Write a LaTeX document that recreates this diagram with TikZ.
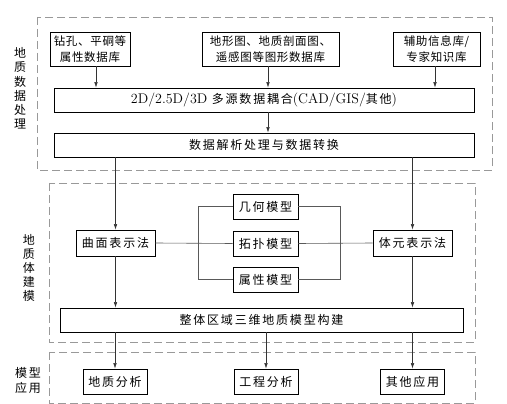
\documentclass[tikz,border=0pt]{standalone}
\usepackage{fontspec}
\newfontfamily\cjk[LetterSpace=15]{Noto Sans CJK SC}
\newfontfamily\cjktop[LetterSpace=6]{Noto Sans CJK SC}
\newfontfamily\cjkside{Noto Sans CJK SC}
\usetikzlibrary{arrows.meta}

\begin{document}
\begin{tikzpicture}[%
      x=1pt, y=-1pt,
      every node/.style={font={\cjk\fontsize{12}{16}\selectfont}, inner sep=0pt},
      box/.style={draw, line width=0.8pt, minimum height=24pt, align=center},
      source/.style={box, minimum height=34pt, font={\cjktop\fontsize{11.5}{16}\selectfont}},
      frame/.style={draw=gray!80, line width=0.8pt, dash pattern=on 8pt off 4pt},
      side/.style={font={\cjkside\fontsize{12}{14.2}\selectfont}, align=center},
      arr/.style={draw=black!80, line width=0.6pt, -{Latex[length=5.5pt,width=3.6pt]}},
      link/.style={draw=black!65, line width=0.6pt}
    ]
    \useasboundingbox (0,0) rectangle (507,404);
    \draw[frame] (37,17) rectangle (492,170);
    \draw[frame] (49,183) rectangle (475,342);
    \draw[frame] (49,352) rectangle (475,403);
    \node[side] (L data) at (20,88.5) {地\\质\\数\\据\\处\\理};
    \node[side] (L model) at (29,268) {地\\质\\体\\建\\模};
    \node[side, font={\cjk\fontsize{12}{15}\selectfont}] (L app) at (28,380) {模型\\应用};
    \node[source, minimum width=80pt] (drill) at (90,49) {钻孔、平硐等\\属性数据库};
    \node[source, minimum width=137pt] (graph) at (270.5,49) {地形图、地质剖面图、\\遥感图等图形数据库};
    \node[source, minimum width=87pt] (expert) at (436.5,49) {辅助信息库/\\专家知识库};
    \node[box, minimum width=420pt] (couple) at (264,100)
     {{\rmfamily\fontsize{14}{16}\selectfont 2D/2.5D/3D} 多源数据耦合{\rmfamily\fontsize{14}{16}\selectfont(CAD/GIS/}其他{\rmfamily\fontsize{14}{16}\selectfont)}};
    \node[box, minimum width=420pt] (parse) at (264,145) {数据解析处理与数据转换};
    \node[box, minimum width=79pt, minimum height=26pt] (surface) at (115.5,243) {曲面表示法};
    \node[box, minimum width=79pt, minimum height=26pt] (volume) at (412.5,243) {体元表示法};
    \node[box, minimum width=65pt, minimum height=25pt] (geom) at (265.5,206.5) {几何模型};
    \node[box, minimum width=65pt, minimum height=25pt] (topo) at (265.5,243.5) {拓扑模型};
    \node[box, minimum width=65pt, minimum height=25pt] (attr) at (265.5,279.5) {属性模型};
    \node[box, minimum width=403pt] (whole) at (261.5,320) {整体区域三维地质模型构建};
    \node[box, minimum width=64pt, minimum height=25pt] (geo app) at (115,381.5) {地质分析};
    \node[box, minimum width=64pt, minimum height=25pt] (eng app) at (266,381.5) {工程分析};
    \node[box, minimum width=64pt, minimum height=25pt] (other app) at (412.5,381.5) {其他应用};
    \coordinate (c drill) at (96,0);
    \coordinate (c graph) at (268,0);
    \coordinate (c expert) at (435,0);
    \coordinate (b left) at (198,0);
    \coordinate (b right) at (340,0);
    \draw[arr] (drill.south -| c drill) -- (couple.north -| c drill);
    \draw[arr] (graph.south -| c graph) -- (couple.north -| c graph);
    \draw[arr] (expert.south -| c expert) -- (couple.north -| c expert);
    \draw[arr] (couple.south -| c graph) -- (parse.north -| c graph);
    \draw[arr] (parse.south -| surface) -- (surface.north);
    \draw[arr] (parse.south -| volume) -- (volume.north);
    \draw[link] (surface.east) -- (topo.west);
    \draw[link] (topo.east) -- (volume.west);
    \draw[link] (geom.west) -- (geom.west -| b left) -- (attr.west -| b left) -- (attr.west);
    \draw[link] (geom.east) -- (geom.east -| b right) -- (attr.east -| b right) -- (attr.east);
    \draw[arr] (surface.south) -- (whole.north -| surface);
    \draw[arr] (volume.south) -- (whole.north -| volume);
    \draw[arr] (whole.south -| geo app) -- (geo app.north);
    \draw[arr] (whole.south -| eng app) -- (eng app.north);
    \draw[arr] (whole.south -| other app) -- (other app.north);
   \end{tikzpicture}
\end{document}
